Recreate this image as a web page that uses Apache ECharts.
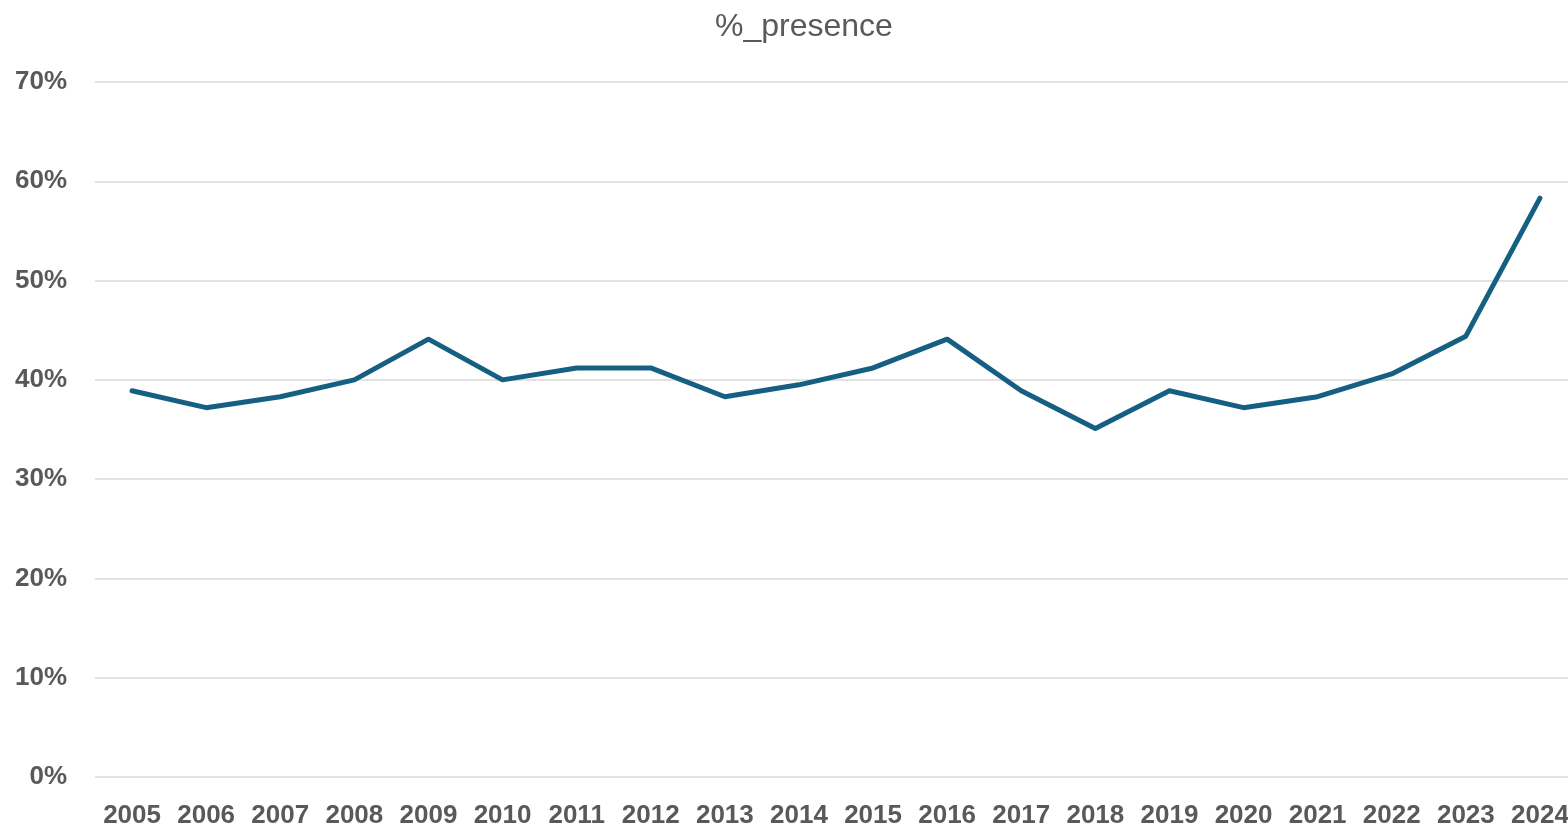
<!DOCTYPE html>
<html>
<head>
<meta charset="utf-8">
<script src="https://cdn.jsdelivr.net/npm/echarts@6/dist/echarts.min.js"></script>
<style>
html,body{margin:0;padding:0;background:#fff;}
#c{width:1568px;height:826px;}
</style>
</head>
<body>
<div id="c"></div>
<script>
const years = ['2005','2006','2007','2008','2009','2010','2011','2012','2013','2014','2015','2016','2017','2018','2019','2020','2021','2022','2023','2024'];
const presence = [38.9,37.2,38.3,40.0,44.1,40.0,41.2,41.2,38.3,39.5,41.2,44.1,38.9,35.1,38.9,37.2,38.3,40.6,44.4,58.3];
const yTicks = {min:0, max:70, interval:10};

const chart = echarts.init(document.getElementById('c'), null, {renderer:'canvas'});
chart.setOption({
  animation:false,
  backgroundColor:'#ffffff',
  title:{
    text:'%_presence',
    left:710, top:6,
    textStyle:{fontFamily:'Liberation Sans', fontWeight:'normal', fontSize:32, color:'#595959'}
  },
  grid:{left:95, width:1482, top:82, height:695, containLabel:false, outerBoundsMode:'none'},
  xAxis:{
    type:'category',
    data:years,
    boundaryGap:true,
    axisLine:{show:false},
    axisTick:{show:false},
    axisLabel:{interval:0, hideOverlap:false, margin:26, fontFamily:'Liberation Sans', fontWeight:'bold', fontSize:26, color:'#595959'}
  },
  yAxis:{
    type:'value',
    min:yTicks.min, max:yTicks.max, interval:yTicks.interval,
    axisLine:{show:false},
    axisTick:{show:false},
    axisLabel:{margin:28, padding:[4,0,0,0], formatter:'{value}%', fontFamily:'Liberation Sans', fontWeight:'bold', fontSize:26, color:'#595959'},
    splitLine:{lineStyle:{color:'#d9d9d9', width:1.5}}
  },
  series:[{
    type:'line',
    data:presence,
    symbol:'none',
    lineStyle:{color:'#156082', width:5, cap:'round', join:'round'}
  }]
});
</script>
</body>
</html>
